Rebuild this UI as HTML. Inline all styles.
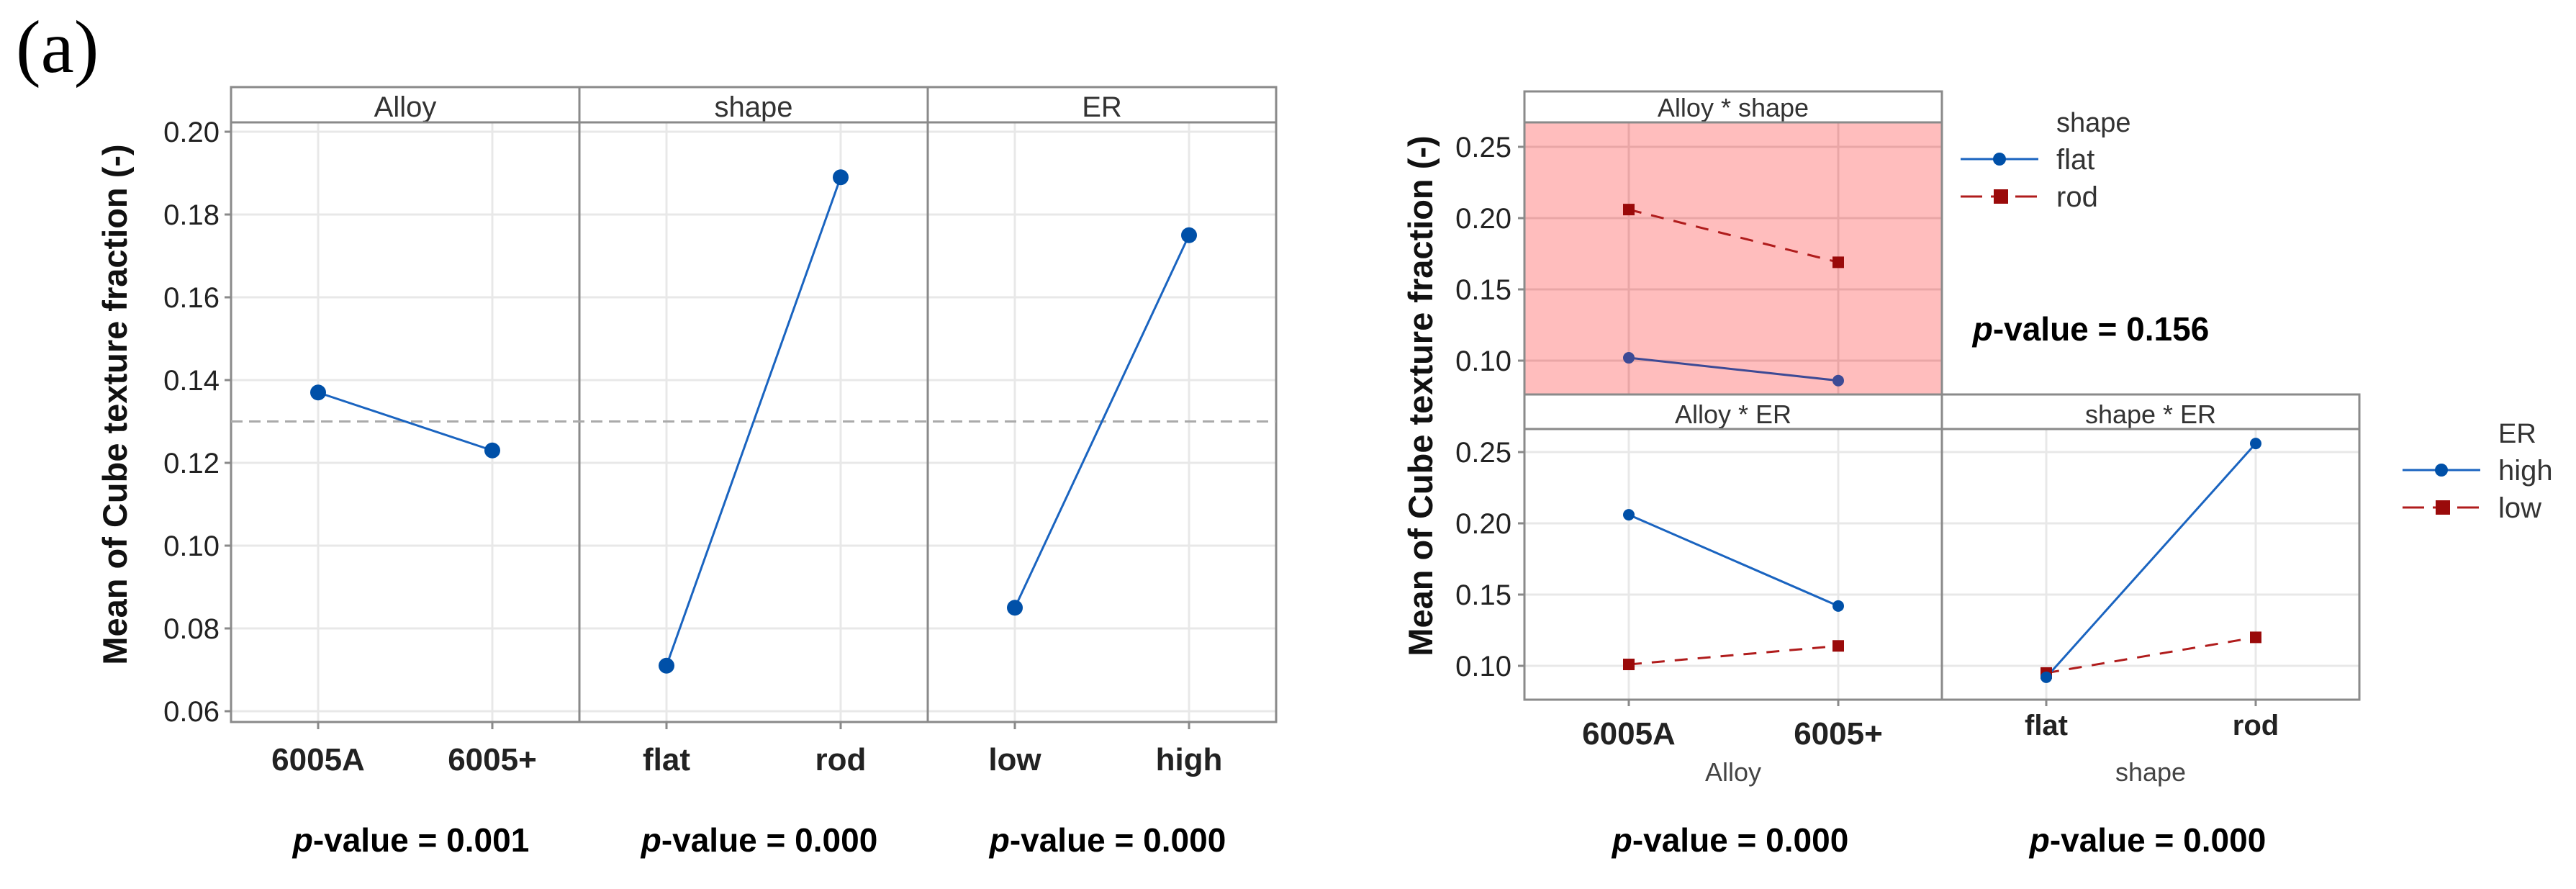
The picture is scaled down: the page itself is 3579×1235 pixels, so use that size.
<!DOCTYPE html>
<html><head><meta charset="utf-8"><style>
html,body{margin:0;padding:0;background:#fff;}
svg{display:block;font-family:"Liberation Sans",sans-serif;}
</style></head><body>
<svg id="fig" width="3579" height="1235" viewBox="0 0 3579 1235" xmlns="http://www.w3.org/2000/svg">
<text x="22" y="100" font-family="Liberation Serif, serif" font-size="104" fill="#000">(a)</text>
<g id="left"></g>
<g id="right"></g>
</svg>
<script>
// ---- Main effects data ----
const mainFactors = ["Alloy","shape","ER"];
const mainCats = [["6005A","6005+"],["flat","rod"],["low","high"]];
const mainMeans = [[0.137,0.123],[0.071,0.189],[0.085,0.175]];
const mainPValues = ["0.001","0.000","0.000"];
const mainTicks = [0.06,0.08,0.10,0.12,0.14,0.16,0.18,0.20];
const grandMean = 0.13;
// ---- Interaction data ----
const intPanels = ["Alloy * shape","Alloy * ER","shape * ER"];
const intCats = [["6005A","6005+"],["6005A","6005+"],["flat","rod"]];
const intSeriesNames = [["flat","rod"],["high","low"],["high","low"]];
const intSolid = [[0.102,0.086],[0.206,0.142],[0.092,0.256]];
const intDashed = [[0.206,0.169],[0.101,0.114],[0.095,0.120]];
const intTicks = [0.10,0.15,0.20,0.25];
const intPValues = ["0.156","0.000","0.000"];

const NS="http://www.w3.org/2000/svg";
function el(parent, tag, attrs, text){
  const e=document.createElementNS(NS,tag);
  for(const k in attrs) e.setAttribute(k,attrs[k]);
  if(text!==undefined) e.textContent=text;
  parent.appendChild(e); return e;
}
function pval(parent,x,y,val,size){
  const t=el(parent,'text',{x:x,y:y,'text-anchor':'middle','font-size':size,'font-weight':'bold',fill:'#000'});
  
  
  el(t,'tspan',{'font-style':'italic'},'p');
  el(t,'tspan',{},'-value = '+val);
  return t;
}
const BLUE="#1a64c0", BLUEM="#0050a8", RED="#b01c1c", REDM="#9a0a0a", FRAME="#8a8a8a", GRID="#e8e8e8";

// ===== LEFT =====
(function(){
  const g=document.getElementById('left');
  const L=321, pw=484, top=121, sb=170, bot=1003;
  const y=v=>183+(0.20-v)*5750;
  mainTicks.forEach(t=>{
    const ln=el(g,'line',{x1:L,x2:L+3*pw,y1:y(t),y2:y(t),stroke:GRID,'stroke-width':3});
    
    
    el(g,'line',{x1:L-9,x2:L,y1:y(t),y2:y(t),stroke:FRAME,'stroke-width':3});
    const tx=el(g,'text',{x:L-16,y:y(t)+14,'text-anchor':'end','font-size':40,fill:'#222'},t.toFixed(2));
    
    
  });
  mainFactors.forEach((f,i)=>{
    const x0=L+i*pw;
    const xs=[x0+121,x0+363];
    xs.forEach((x,j)=>{
      el(g,'line',{x1:x,x2:x,y1:sb,y2:bot,stroke:GRID,'stroke-width':3});
      el(g,'line',{x1:x,x2:x,y1:bot,y2:bot+10,stroke:FRAME,'stroke-width':3});
      const tl=el(g,'text',{x:x,y:1070,'text-anchor':'middle','font-size':44,'font-weight':'bold',fill:'#222'},mainCats[i][j]);
      
      
    });
    el(g,'rect',{x:x0,y:top,width:pw,height:sb-top,fill:'#fff',stroke:FRAME,'stroke-width':3});
    const st=el(g,'text',{x:x0+pw/2,y:162,'text-anchor':'middle','font-size':40,fill:'#333'},f);
    
    
    el(g,'rect',{x:x0,y:sb,width:pw,height:bot-sb,fill:'none',stroke:FRAME,'stroke-width':3});
    pval(g,x0+pw/2+8,1183,mainPValues[i],46);
  });
  const dl=el(g,'line',{x1:L,x2:L+3*pw,y1:y(grandMean),y2:y(grandMean),stroke:'#aaa','stroke-width':3,'stroke-dasharray':'16 9'});
  
  
  mainFactors.forEach((f,i)=>{
    const x0=L+i*pw; const xs=[x0+121,x0+363];
    const ln=el(g,'line',{x1:xs[0],y1:y(mainMeans[i][0]),x2:xs[1],y2:y(mainMeans[i][1]),stroke:BLUE,'stroke-width':3});
    
    
    mainMeans[i].forEach((v,j)=>{
      const c=el(g,'circle',{cx:xs[j],cy:y(v),r:11,fill:BLUEM});
      
      
    });
  });
  const yt=el(g,'text',{x:0,y:0,transform:'translate(176,562) rotate(-90)','text-anchor':'middle','font-size':47,'font-weight':'bold',fill:'#111'},'Mean of Cube texture fraction (-)');
  
  
})();

// ===== RIGHT =====
(function(){
  const g=document.getElementById('right');
  const pw=580;
  const panels=[
    {x0:2118, top:127, sb:170, bot:548, y0:204, pink:true},
    {x0:2118, top:548, sb:596, bot:972, y0:628},
    {x0:2698, top:548, sb:596, bot:972, y0:628}
  ];
  panels.forEach((p,i)=>{
    const y=v=>p.y0+(0.25-v)*1980;
    const xs=[p.x0+145,p.x0+436];
    el(g,'rect',{x:p.x0,y:p.sb,width:pw,height:p.bot-p.sb,fill:p.pink?'#ffbdbd':'#fff'});
    const gc=p.pink?'#e9a6a6':GRID;
    intTicks.forEach(t=>{
      el(g,'line',{x1:p.x0,x2:p.x0+pw,y1:y(t),y2:y(t),stroke:gc,'stroke-width':3});
      if(i<2){
        el(g,'line',{x1:p.x0-9,x2:p.x0,y1:y(t),y2:y(t),stroke:FRAME,'stroke-width':3});
        const tx=el(g,'text',{x:p.x0-18,y:y(t)+14,'text-anchor':'end','font-size':40,fill:'#222'},t.toFixed(2));
        
        
      }
    });
    xs.forEach(x=>el(g,'line',{x1:x,x2:x,y1:p.sb,y2:p.bot,stroke:gc,'stroke-width':3}));
    el(g,'rect',{x:p.x0,y:p.top,width:pw,height:p.sb-p.top,fill:'#fff',stroke:FRAME,'stroke-width':3});
    const st=el(g,'text',{x:p.x0+pw/2,y:p.sb-8,'text-anchor':'middle','font-size':36,fill:'#333'},intPanels[i]);
    
    
    el(g,'rect',{x:p.x0,y:p.sb,width:pw,height:p.bot-p.sb,fill:'none',stroke:FRAME,'stroke-width':3});
    const dl=el(g,'line',{x1:xs[0],y1:y(intDashed[i][0]),x2:xs[1],y2:y(intDashed[i][1]),stroke:RED,'stroke-width':3,'stroke-dasharray':'18 14'});
    
    
    const sc=p.pink?'#3d4a95':BLUE;
    const sl=el(g,'line',{x1:xs[0],y1:y(intSolid[i][0]),x2:xs[1],y2:y(intSolid[i][1]),stroke:sc,'stroke-width':3});
    
    
    intDashed[i].forEach((v,j)=>{
      const r=el(g,'rect',{x:xs[j]-8,y:y(v)-8,width:16,height:16,fill:REDM});
      
      
    });
    intSolid[i].forEach((v,j)=>{
      const c=el(g,'circle',{cx:xs[j],cy:y(v),r:8,fill:p.pink?'#3d4a95':BLUEM});
      
      
    });
    if(i>0){
      el(g,'line',{x1:xs[0],x2:xs[0],y1:p.bot,y2:p.bot+9,stroke:FRAME,'stroke-width':3});
      el(g,'line',{x1:xs[1],x2:xs[1],y1:p.bot,y2:p.bot+9,stroke:FRAME,'stroke-width':3});
      const fs=i===1?44:40, by=i===1?1034:1021;
      xs.forEach((x,j)=>{
        const tl=el(g,'text',{x:x,y:by,'text-anchor':'middle','font-size':fs,'font-weight':'bold',fill:'#222'},intCats[i][j]);
        
        
      });
      const at=el(g,'text',{x:p.x0+pw/2,y:1085,'text-anchor':'middle','font-size':36,fill:'#444'},i===1?'Alloy':'shape');
      
      
      pval(g,p.x0+pw/2-4,1183,intPValues[i],46);
    }
  });
  pval(g,2905,473,intPValues[0],46);
  function legend(x,ty,title,names){
    const lg=el(g,'g',{});
    
    
    el(lg,'text',{x:x+133,y:ty,'font-size':38,fill:'#333'},title);
    const y1=ty+38, y2=ty+90;
    el(lg,'line',{x1:x,x2:x+108,y1:y1,y2:y1,stroke:BLUE,'stroke-width':3});
    el(lg,'circle',{cx:x+54,cy:y1,r:9,fill:BLUEM});
    el(lg,'text',{x:x+133,y:y1+14,'font-size':40,fill:'#333'},names[0]);
    el(lg,'line',{x1:x,x2:x+108,y1:y2,y2:y2,stroke:RED,'stroke-width':3,'stroke-dasharray':'30 12 18 16'});
    el(lg,'rect',{x:x+46,y:y2-10,width:20,height:20,fill:REDM});
    el(lg,'text',{x:x+133,y:y2+14,'font-size':40,fill:'#333'},names[1]);
  }
  legend(2724,183,'shape',intSeriesNames[0]);
  legend(3338,615,'ER',intSeriesNames[1]);
  const yt=el(g,'text',{x:0,y:0,transform:'translate(1990,550) rotate(-90)','text-anchor':'middle','font-size':47,'font-weight':'bold',fill:'#111'},'Mean of Cube texture fraction (-)');
  
  
})();
</script>
</body></html>
